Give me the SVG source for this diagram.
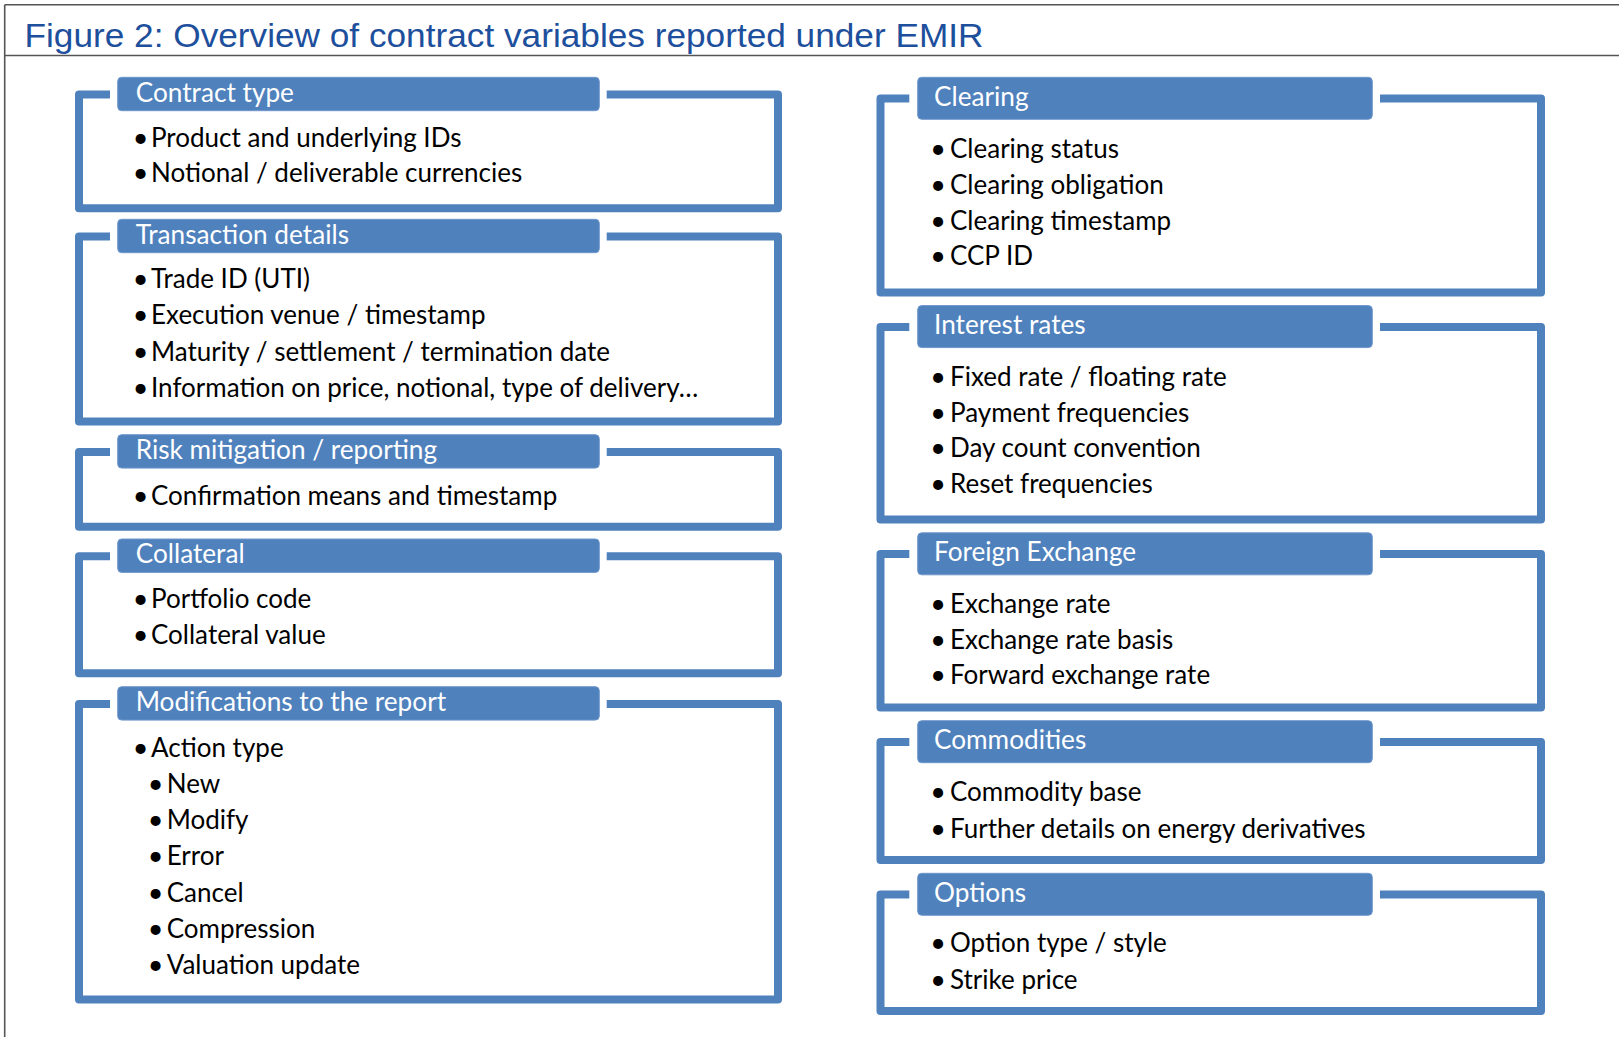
<svg xmlns="http://www.w3.org/2000/svg" width="1619" height="1037" viewBox="0 0 1619 1037">
  <style>
    .rule { stroke: #555555; stroke-width: 1.6; fill: none; }
    .title { font-family: "Liberation Sans", Arial, sans-serif; font-size: 33px; fill: #1d4f9c; }
    .frame { fill: none; stroke: #4f81bd; stroke-width: 8; stroke-linejoin: round; }
    .hdr { fill: #4f81bd; stroke: #6f97cc; stroke-width: 1; }
    .ht { font-family: Lato, "Open Sans", sans-serif; font-size: 26.2px; fill: #ffffff; }
    .it { font-family: Lato, "Open Sans", sans-serif; font-size: 26px; fill: #000000; }
    .b { text-anchor: middle; font-size: 27px; }
  </style>

  <rect x="0" y="0" width="1619" height="1037" fill="#ffffff"/>

  <!-- page frame and title band -->
  <g id="page">
    <line class="rule" x1="4.7" y1="4.7" x2="1619" y2="4.7"/>
    <line class="rule" x1="4.7" y1="55.5" x2="1619" y2="55.5"/>
    <line class="rule" x1="4.7" y1="4.7" x2="4.7" y2="1037"/>
    <text class="title" x="24.5" y="46.5" textLength="959" lengthAdjust="spacingAndGlyphs">Figure 2: Overview of contract variables reported under EMIR</text>
  </g>

  <!-- left column -->
  <g id="contract-type">
    <path class="frame" d="M110,94.5 H79 V208.3 H778 V94.5 H606.7"/>
    <rect class="hdr" x="117.7" y="77.3" width="481.6" height="33.4" rx="4"/>
    <text class="ht" x="135.7" y="101.7">Contract type</text>
    <g transform="translate(0,1.5)">
      <text class="it"><tspan class="b" x="140.5" y="145">•</tspan><tspan x="151" y="145">Product and underlying IDs</tspan></text>
      <text class="it"><tspan class="b" x="140.5" y="180.5">•</tspan><tspan x="151" y="180.5">Notional / deliverable currencies</tspan></text>
    </g>
  </g>

  <g id="transaction-details">
    <path class="frame" d="M110,236.5 H79 V421.4 H778 V236.5 H606.7"/>
    <rect class="hdr" x="117.7" y="219.3" width="481.6" height="33.4" rx="4"/>
    <text class="ht" x="135.7" y="243.7">Transaction details</text>
    <g transform="translate(0,1.5)">
      <text class="it"><tspan class="b" x="140.5" y="286.5">•</tspan><tspan x="151" y="286.5">Trade ID (UTI)</tspan></text>
      <text class="it"><tspan class="b" x="140.5" y="322.6">•</tspan><tspan x="151" y="322.6">Execution venue / timestamp</tspan></text>
      <text class="it"><tspan class="b" x="140.5" y="359">•</tspan><tspan x="151" y="359">Maturity / settlement / termination date</tspan></text>
      <text class="it"><tspan class="b" x="140.5" y="395.5">•</tspan><tspan x="151" y="395.5">Information on price, notional, type of delivery…</tspan></text>
    </g>
  </g>

  <g id="risk-mitigation">
    <path class="frame" d="M110,451.9 H79 V526.7 H778 V451.9 H606.7"/>
    <rect class="hdr" x="117.7" y="434.7" width="481.6" height="33.4" rx="4"/>
    <text class="ht" x="135.7" y="459.1">Risk mitigation / reporting</text>
    <g transform="translate(0,1.5)">
      <text class="it"><tspan class="b" x="140.5" y="503.3">•</tspan><tspan x="151" y="503.3">Confirmation means and timestamp</tspan></text>
    </g>
  </g>

  <g id="collateral">
    <path class="frame" d="M110,556.2 H79 V673.3 H778 V556.2 H606.7"/>
    <rect class="hdr" x="117.7" y="539" width="481.6" height="33.4" rx="4"/>
    <text class="ht" x="135.7" y="563.4">Collateral</text>
    <g transform="translate(0,1.5)">
      <text class="it"><tspan class="b" x="140.5" y="606.6">•</tspan><tspan x="151" y="606.6">Portfolio code</tspan></text>
      <text class="it"><tspan class="b" x="140.5" y="642.7">•</tspan><tspan x="151" y="642.7">Collateral value</tspan></text>
    </g>
  </g>

  <g id="modifications">
    <path class="frame" d="M110,703.9 H79 V999.5 H778 V703.9 H606.7"/>
    <rect class="hdr" x="117.7" y="686.7" width="481.6" height="33.4" rx="4"/>
    <text class="ht" x="135.7" y="711">Modifications to the report</text>
    <g transform="translate(0,1.5)">
      <text class="it"><tspan class="b" x="140.5" y="755">•</tspan><tspan x="151" y="755">Action type</tspan></text>
      <text class="it"><tspan class="b" x="155.7" y="791">•</tspan><tspan x="166.7" y="791">New</tspan></text>
      <text class="it"><tspan class="b" x="155.7" y="827.3">•</tspan><tspan x="166.7" y="827.3">Modify</tspan></text>
      <text class="it"><tspan class="b" x="155.7" y="863.8">•</tspan><tspan x="166.7" y="863.8">Error</tspan></text>
      <text class="it"><tspan class="b" x="155.7" y="900">•</tspan><tspan x="166.7" y="900">Cancel</tspan></text>
      <text class="it"><tspan class="b" x="155.7" y="936.4">•</tspan><tspan x="166.7" y="936.4">Compression</tspan></text>
      <text class="it"><tspan class="b" x="155.7" y="972.3">•</tspan><tspan x="166.7" y="972.3">Valuation update</tspan></text>
    </g>
  </g>

  <!-- right column -->
  <g id="clearing">
    <path class="frame" d="M909.3,98.6 H880.5 V292.5 H1541 V98.6 H1380"/>
    <rect class="hdr" x="917.7" y="77.3" width="454.6" height="42" rx="4"/>
    <text class="ht" x="934" y="105.5">Clearing</text>
    <g transform="translate(0,1.5)">
      <text class="it"><tspan class="b" x="938" y="156">•</tspan><tspan x="950" y="156">Clearing status</tspan></text>
      <text class="it"><tspan class="b" x="938" y="192">•</tspan><tspan x="950" y="192">Clearing obligation</tspan></text>
      <text class="it"><tspan class="b" x="938" y="228">•</tspan><tspan x="950" y="228">Clearing timestamp</tspan></text>
      <text class="it"><tspan class="b" x="938" y="263.5">•</tspan><tspan x="950" y="263.5">CCP ID</tspan></text>
    </g>
  </g>

  <g id="interest-rates">
    <path class="frame" d="M909.3,326.9 H880.5 V519.5 H1541 V326.9 H1380"/>
    <rect class="hdr" x="917.7" y="305.6" width="454.6" height="42" rx="4"/>
    <text class="ht" x="934" y="333.8">Interest rates</text>
    <g transform="translate(0,1.5)">
      <text class="it"><tspan class="b" x="938" y="384">•</tspan><tspan x="950" y="384">Fixed rate / floating rate</tspan></text>
      <text class="it"><tspan class="b" x="938" y="420.2">•</tspan><tspan x="950" y="420.2">Payment frequencies</tspan></text>
      <text class="it"><tspan class="b" x="938" y="455.5">•</tspan><tspan x="950" y="455.5">Day count convention</tspan></text>
      <text class="it"><tspan class="b" x="938" y="491.4">•</tspan><tspan x="950" y="491.4">Reset frequencies</tspan></text>
    </g>
  </g>

  <g id="foreign-exchange">
    <path class="frame" d="M909.3,554.1 H880.5 V707.4 H1541 V554.1 H1380"/>
    <rect class="hdr" x="917.7" y="532.8" width="454.6" height="42" rx="4"/>
    <text class="ht" x="934" y="561">Foreign Exchange</text>
    <g transform="translate(0,1.5)">
      <text class="it"><tspan class="b" x="938" y="611.2">•</tspan><tspan x="950" y="611.2">Exchange rate</tspan></text>
      <text class="it"><tspan class="b" x="938" y="647.3">•</tspan><tspan x="950" y="647.3">Exchange rate basis</tspan></text>
      <text class="it"><tspan class="b" x="938" y="682.6">•</tspan><tspan x="950" y="682.6">Forward exchange rate</tspan></text>
    </g>
  </g>

  <g id="commodities">
    <path class="frame" d="M909.3,742 H880.5 V860 H1541 V742 H1380"/>
    <rect class="hdr" x="917.7" y="720.7" width="454.6" height="42" rx="4"/>
    <text class="ht" x="934" y="748.9">Commodities</text>
    <g transform="translate(0,1.5)">
      <text class="it"><tspan class="b" x="938" y="799.1">•</tspan><tspan x="950" y="799.1">Commodity base</tspan></text>
      <text class="it"><tspan class="b" x="938" y="836.3">•</tspan><tspan x="950" y="836.3">Further details on energy derivatives</tspan></text>
    </g>
  </g>

  <g id="options">
    <path class="frame" d="M909.3,894.6 H880.5 V1011 H1541 V894.6 H1380"/>
    <rect class="hdr" x="917.7" y="873.3" width="454.6" height="42" rx="4"/>
    <text class="ht" x="934" y="901.5">Options</text>
    <g transform="translate(0,1.5)">
      <text class="it"><tspan class="b" x="938" y="950.9">•</tspan><tspan x="950" y="950.9">Option type / style</tspan></text>
      <text class="it"><tspan class="b" x="938" y="987">•</tspan><tspan x="950" y="987">Strike price</tspan></text>
    </g>
  </g>
</svg>
